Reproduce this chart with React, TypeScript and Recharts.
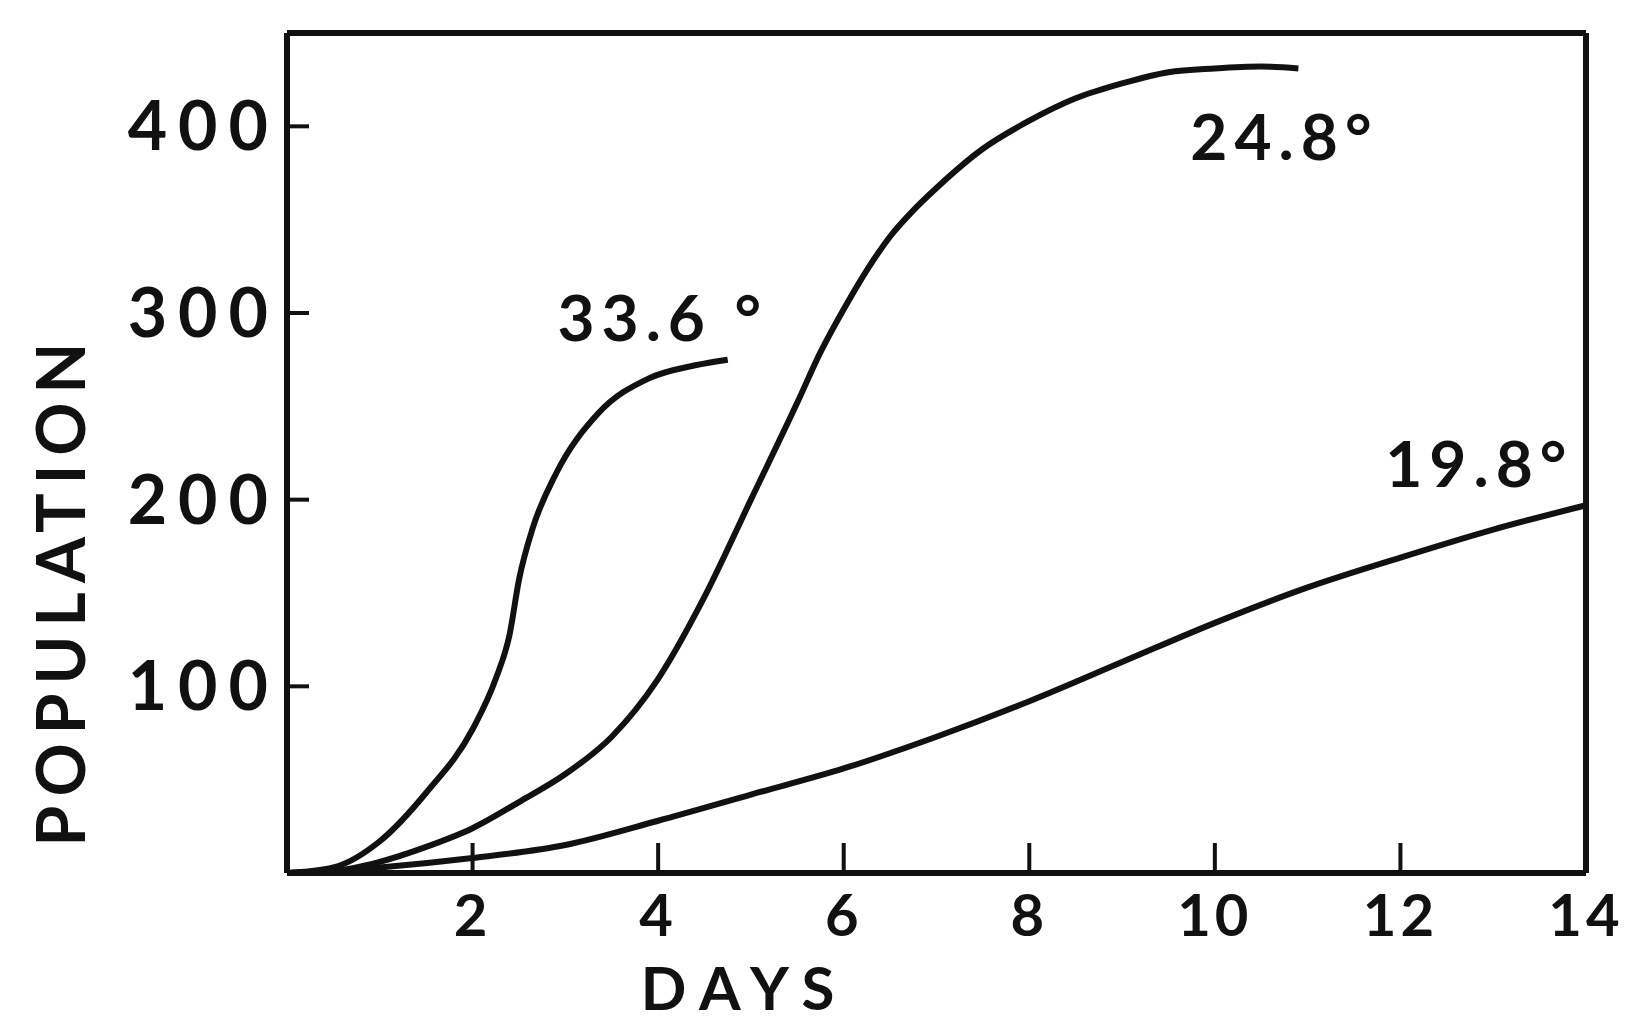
import React from "react";
import { LineChart, Line, XAxis, YAxis, ReferenceDot } from "recharts";

// population growth at three temperatures
const days336 = [0, 0.5, 1, 1.5, 2, 2.25, 2.4, 2.5, 2.65, 2.9, 3.35, 3.9, 4.4, 4.75];
const pop336 = [0, 3, 17, 43, 77, 104, 128, 157, 185, 214, 246, 265, 272, 275];

const days248 = [0, 0.5, 1, 1.5, 2, 2.5, 3, 3.5, 4, 4.5, 5, 5.5, 5.75, 6, 6.25, 6.5, 6.75, 7, 7.5, 8, 8.5, 9, 9.5, 10, 10.5, 10.9];
const pop248 = [0, 1, 6, 14, 24, 38, 53, 73, 104, 148, 200, 252, 279, 302, 323, 341, 355, 367, 388, 403, 415, 423, 429, 431, 432, 431];

const days198 = [0, 1, 2, 3, 4, 5, 6, 7, 8, 9, 10, 11, 12, 13, 14];
const pop198 = [0, 3, 8, 15, 28, 42, 56, 73, 92, 113, 134, 153, 169, 184, 197];

const xTicks = [2, 4, 6, 8, 10, 12, 14];
const yTicks = [100, 200, 300, 400];

const curveNames = ["33.6 °", "24.8°", "19.8°"];
// where each curve's name sits (days, population of the text baseline)
const labelDays = [4.05, 10.75, 12.85];
const labelPop = [285, 382, 207];

const toPoints = (xs: number[], ys: number[]) => xs.map((x, i) => ({ x, y: ys[i] }));

const FONT = "Lato, 'DejaVu Sans', sans-serif";
const INK = "#111";

const CurveLabel = (props: any) => {
    const { viewBox, text } = props;
    const cx = viewBox.x + viewBox.width / 2;
    const cy = viewBox.y + viewBox.height / 2;
    return (
        <text x={cx} y={cy} textAnchor="middle" fontFamily={FONT} fontWeight={700} fontSize={64} letterSpacing={7} fill={INK}>
            {text}
        </text>
    );
};

export default function App() {
    const series = [toPoints(days336, pop336), toPoints(days248, pop248), toPoints(days198, pop198)];
    const tickStyle = { fontFamily: FONT, fontWeight: 700, fill: INK };

    return (
        <div style={{ position: "absolute", left: 0, top: 0, width: 1625, height: 1023, background: "#fff" }}>
            <LineChart width={1625} height={1023} margin={{ top: 0, right: 0, bottom: 0, left: 0 }}>
                <XAxis
                    xAxisId="days"
                    dataKey="x"
                    type="number"
                    domain={[0, 14]}
                    ticks={xTicks}
                    height={150}
                    stroke={INK}
                    strokeWidth={6}
                    tickSize={-30}
                    tickMargin={52}
                    tick={{ ...tickStyle, fontSize: 58, letterSpacing: 4 }}
                    tickLine={{ stroke: INK, strokeWidth: 4 }}
                    label={{ value: "DAYS", position: "insideBottom", offset: 13, style: { fontFamily: FONT, fontWeight: 700, fontSize: 60, letterSpacing: 14, fill: INK }, dx: -192 }}
                />
                <XAxis xAxisId="top" orientation="top" type="number" domain={[0, 14]} height={33} tick={false} tickLine={false} stroke={INK} strokeWidth={6} />
                <YAxis
                    yAxisId="pop"
                    type="number"
                    domain={[0, 450]}
                    ticks={yTicks}
                    width={287}
                    stroke={INK}
                    strokeWidth={6}
                    tickSize={-22}
                    tickMargin={30}
                    tick={{ ...tickStyle, fontSize: 68, letterSpacing: 11 }}
                    tickLine={{ stroke: INK, strokeWidth: 4 }}
                    label={{ value: "POPULATION", angle: -90, position: "insideLeft", offset: 62, style: { fontFamily: FONT, fontWeight: 700, fontSize: 66, letterSpacing: 9, fill: INK, textAnchor: "middle" }, dy: 137 }}
                />
                <YAxis yAxisId="right" orientation="right" type="number" domain={[0, 450]} width={39} tick={false} tickLine={false} stroke={INK} strokeWidth={6} />
                {series.map((pts, i) => (
                    <Line
                        key={curveNames[i]}
                        xAxisId="days"
                        yAxisId="pop"
                        data={pts}
                        dataKey="y"
                        type="monotone"
                        stroke={INK}
                        strokeWidth={6}
                        dot={false}
                        isAnimationActive={false}
                    />
                ))}
                {curveNames.map((name, i) => (
                    <ReferenceDot
                        key={"lbl" + i}
                        xAxisId="days"
                        yAxisId="pop"
                        x={labelDays[i]}
                        y={labelPop[i]}
                        r={0}
                        stroke="none"
                        fill="none"
                        label={<CurveLabel text={name} />}
                    />
                ))}
            </LineChart>
        </div>
    );
}
